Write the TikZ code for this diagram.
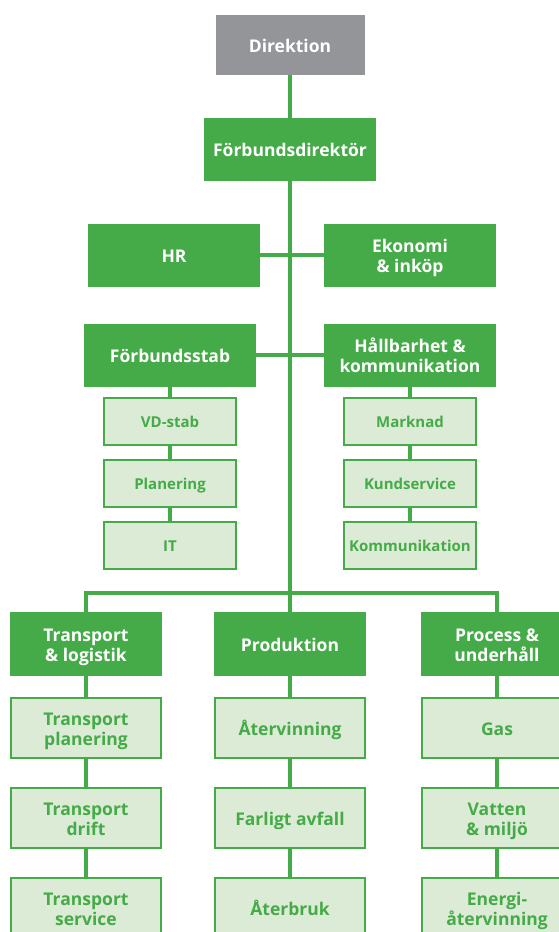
\documentclass[tikz,border=0pt]{standalone}
\usepackage{fontspec}
\setmainfont{Open Sans}
\usetikzlibrary{positioning}

\definecolor{boxgreen}{RGB}{69,171,72}
\definecolor{palegreen}{RGB}{220,235,213}
\definecolor{boardgray}{RGB}{147,149,152}

\begin{document}
\begin{tikzpicture}[x=1pt,y=-1pt,
    head/.style={fill=boxgreen,text=white,inner sep=0pt,align=center,
                 minimum width=172pt,minimum height=63pt,
                 font=\bfseries\fontsize{17.5}{20.5}\selectfont,
                 execute at begin node={\rule{0pt}{19pt}},
                 execute at end node={\rule[-4.5pt]{0pt}{4.5pt}}},
    board/.style={head,fill=boardgray,minimum width=149pt,minimum height=60pt},
    dept/.style={head,minimum width=152pt,minimum height=64pt},
    unit/.style={fill=palegreen,draw=boxgreen,line width=2pt,text=boxgreen,
                 inner sep=0pt,align=center,minimum width=132pt,minimum height=47pt,
                 font=\bfseries\fontsize{15}{18}\selectfont,
                 execute at begin node={\rule{0pt}{15.5pt}},
                 execute at end node={\rule[-4pt]{0pt}{4pt}}},
    sect/.style={unit,minimum width=150pt,minimum height=60pt,
                 font=\bfseries\fontsize{17.5}{20.5}\selectfont,
                 execute at begin node={\rule{0pt}{19pt}},
                 execute at end node={\rule[-4.5pt]{0pt}{4.5pt}}},
    twoline/.style={text height=39.5pt,text depth=4.5pt},
    link/.style={draw=boxgreen,line width=3.5pt}]

  \useasboundingbox (0,0) rectangle (558,932);

  \node[board] (dir) at (290,45)    {Direktion};
  \node[head]  (fd)  at (290,149.5) {Förbundsdirektör};
  \node[head]  (hr)  at (174,255)   {HR};
  \node[head,twoline] (eko) at (410,255) {Ekonomi\\\& inköp};
  \node[head]  (fs)  at (170,355)   {Förbundsstab};
  \node[head,twoline] (hk)  at (410,355) {Hållbarhet \&\\kommunikation};

  % staff units
  \node[unit] (vd)   at (170,421.5)     {VD-stab};
  \node[unit] (plan) [below=13pt of vd]  {Planering};
  \node[unit] (it)   [below=13pt of plan] {IT};
  \node[unit] (mark) at (410,421.5)     {Marknad};
  \node[unit] (kund) [below=13pt of mark] {Kundservice};
  \node[unit] (komm) [below=13pt of kund] {Kommunikation};

  % departments
  \node[dept,twoline] (trans) at (86,644)  {Transport\\\& logistik};
  \node[dept]         (prod)  at (290,644) {Produktion};
  \node[dept,twoline] (proc)  at (497,644) {Process \&\\underhåll};

  \node[sect,twoline] (tplan) [below=21pt of trans] {Transport\\planering};
  \node[sect,twoline] (tdrif) [below=28pt of tplan] {Transport\\drift};
  \node[sect,twoline] (tserv) [below=28pt of tdrif] {Transport\\service};
  \node[sect] (atv)   [below=21pt of prod]  {Återvinning};
  \node[sect] (farl)  [below=28pt of atv]   {Farligt avfall};
  \node[sect] (atb)   [below=28pt of farl]  {Återbruk};
  \node[sect] (gas)   [below=21pt of proc]  {Gas};
  \node[sect,twoline] (vatt)  [below=28pt of gas]  {Vatten\\\& miljö};
  \node[sect,twoline] (energ) [below=28pt of vatt] {Energi-\\återvinning};

  \coordinate (split) at (290,593);

  \draw[link] (dir) -- (fd);
  \draw[link] (fd) -- (prod);
  \draw[link] (hr) -- (eko);
  \draw[link] (fs) -- (hk);
  \draw[link] (fs) -- (vd) -- (plan) -- (it);
  \draw[link] (hk) -- (mark) -- (kund) -- (komm);
  \draw[link] (trans) |- (split) -| (proc);
  \draw[link] (trans) -- (tplan) -- (tdrif) -- (tserv);
  \draw[link] (prod) -- (atv) -- (farl) -- (atb);
  \draw[link] (proc) -- (gas) -- (vatt) -- (energ);
\end{tikzpicture}
\end{document}
